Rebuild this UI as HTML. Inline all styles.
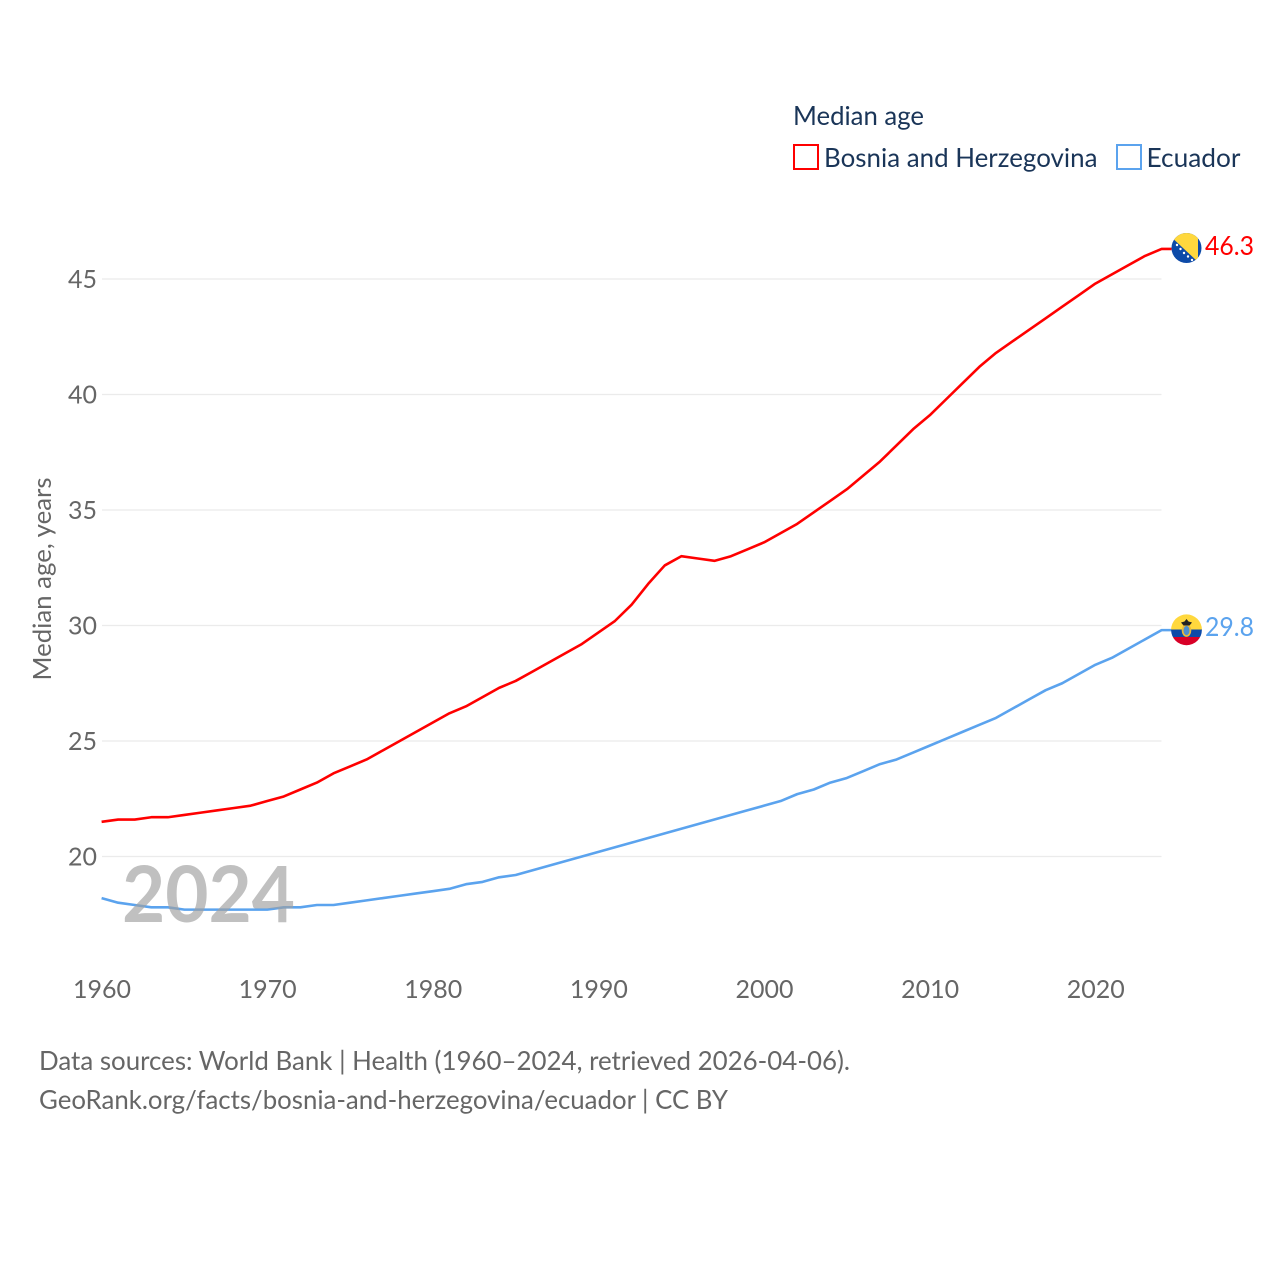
<!DOCTYPE html>
<html lang="en">
<head>
<meta charset="utf-8">
<title>Median age: Bosnia and Herzegovina vs Ecuador</title>
<style>
html,body{margin:0;padding:0;background:#fff;width:1280px;height:1280px;overflow:hidden}
svg{display:block}
text{font-family:"Lato","Carlito","Liberation Sans",sans-serif}
</style>
</head>
<body>
<svg id="chart" xmlns="http://www.w3.org/2000/svg" width="1280" height="1280" viewBox="0 0 1280 1280">
  <defs>
    <clipPath id="flag-clip-ba"><circle cx="1186.5" cy="248" r="15"/></clipPath>
    <clipPath id="flag-clip-ec"><circle cx="1186.5" cy="629.8" r="15.4"/></clipPath>
  </defs>
  <rect x="0" y="0" width="1280" height="1280" fill="#fff"/>
  <g id="grid"></g>
  <g id="yticks"></g>
  <g id="xticks"></g>
  <text transform="translate(51,579) rotate(-90)" text-anchor="middle" font-size="25.5" fill="#666" textLength="203" lengthAdjust="spacingAndGlyphs">Median age, years</text>
  <g id="series"></g>
  <text x="122" y="922" font-size="78" font-weight="700" fill="#a0a0a0" opacity="0.66" textLength="173" lengthAdjust="spacingAndGlyphs">2024</text>

  <g clip-path="url(#flag-clip-ba)">
    <rect x="1171" y="232" width="31" height="32" fill="#0d4aa8"/>
    <polygon points="1167,233 1198,233 1198,262" fill="#ffd83d"/>
    <g fill="#fff">
      <circle cx="1177" cy="245" r="1.2"/><circle cx="1180.5" cy="249" r="1.2"/><circle cx="1184" cy="253" r="1.2"/>
      <circle cx="1188" cy="256.5" r="1.2"/><circle cx="1192" cy="260" r="1.2"/>
    </g>
  </g>
  <g clip-path="url(#flag-clip-ec)">
    <rect x="1171" y="614" width="31" height="16" fill="#ffd83d"/>
    <rect x="1171" y="629.5" width="31" height="7.5" fill="#0d4aa8"/>
    <rect x="1171" y="637" width="31" height="9" fill="#d80027"/>
    <ellipse cx="1186.5" cy="630.5" rx="4.8" ry="6.4" fill="#e9b93a"/>
    <ellipse cx="1186.5" cy="630.5" rx="3" ry="4.6" fill="#4c8fd0"/>
    <polygon points="1186.5,619 1188.5,621.5 1192,622.5 1189.5,625.5 1183.5,625.5 1181,622.5 1184.5,621.5" fill="#222"/>
  </g>
  <text id="end-ba" x="1205" y="255" font-size="26" fill="#ff0000" textLength="49" lengthAdjust="spacingAndGlyphs"></text>
  <text id="end-ec" x="1205" y="636" font-size="26" fill="#5ba3ee" textLength="49" lengthAdjust="spacingAndGlyphs"></text>

  <g>
    <text x="793" y="125" font-size="26" fill="#1a3558" textLength="131" lengthAdjust="spacingAndGlyphs">Median age</text>
    <g>
      <rect x="794" y="145" width="24" height="24" fill="#fff" stroke="#ff0000" stroke-width="2"/>
      <text x="824" y="167" font-size="26" fill="#1a3558" textLength="273.5" lengthAdjust="spacingAndGlyphs">Bosnia and Herzegovina</text>
    </g>
    <g>
      <rect x="1117" y="145" width="24" height="24" fill="#fff" stroke="#5ba3ee" stroke-width="2"/>
      <text x="1146.5" y="167" font-size="26" fill="#1a3558" textLength="94" lengthAdjust="spacingAndGlyphs">Ecuador</text>
    </g>
  </g>

  <text x="39" y="1070" font-size="26" fill="#666" textLength="811" lengthAdjust="spacingAndGlyphs">Data sources: World Bank | Health (1960–2024, retrieved 2026-04-06).</text>
  <text x="39" y="1109" font-size="26" fill="#666" textLength="689" lengthAdjust="spacingAndGlyphs">GeoRank.org/facts/bosnia-and-herzegovina/ecuador | CC BY</text>
</svg>
<script>
const startYear = 1960;
const bosniaValues = [21.5,21.6,21.6,21.7,21.7,21.8,21.9,22.0,22.1,22.2,22.4,22.6,22.9,23.2,23.6,23.9,24.2,24.6,25.0,25.4,25.8,26.2,26.5,26.9,27.3,27.6,28.0,28.4,28.8,29.2,29.7,30.2,30.9,31.8,32.6,33.0,32.9,32.8,33.0,33.3,33.6,34.0,34.4,34.9,35.4,35.9,36.5,37.1,37.8,38.5,39.1,39.8,40.5,41.2,41.8,42.3,42.8,43.3,43.8,44.3,44.8,45.2,45.6,46.0,46.3];
const ecuadorValues = [18.2,18.0,17.9,17.8,17.8,17.7,17.7,17.7,17.7,17.7,17.7,17.8,17.8,17.9,17.9,18.0,18.1,18.2,18.3,18.4,18.5,18.6,18.8,18.9,19.1,19.2,19.4,19.6,19.8,20.0,20.2,20.4,20.6,20.8,21.0,21.2,21.4,21.6,21.8,22.0,22.2,22.4,22.7,22.9,23.2,23.4,23.7,24.0,24.2,24.5,24.8,25.1,25.4,25.7,26.0,26.4,26.8,27.2,27.5,27.9,28.3,28.6,29.0,29.4,29.8];
const yTickValues = [20,25,30,35,40,45];
const xTickYears = [1960,1970,1980,1990,2000,2010,2020];

const SVG_NS = 'http://www.w3.org/2000/svg';
function xScale(year){ return 101.6 + (year - 1960) * 16.5625; }
function yScale(value){ return 856.5 - (value - 20) * 23.1; }

const gridGroup = document.getElementById('grid');
const yGroup = document.getElementById('yticks');
const xGroup = document.getElementById('xticks');
const seriesGroup = document.getElementById('series');

yTickValues.forEach(function(v){
  const line = document.createElementNS(SVG_NS, 'line');
  
  
  line.setAttribute('x1', 102);
  line.setAttribute('x2', 1161.5);
  line.setAttribute('y1', yScale(v));
  line.setAttribute('y2', yScale(v));
  line.setAttribute('stroke', '#ebebeb');
  line.setAttribute('stroke-width', '1.2');
  gridGroup.appendChild(line);

  const label = document.createElementNS(SVG_NS, 'text');
  
  
  label.setAttribute('x', 97);
  label.setAttribute('y', yScale(v) + 9);
  label.setAttribute('text-anchor', 'end');
  label.setAttribute('font-size', '25');
  label.setAttribute('fill', '#666');
  label.textContent = String(v);
  yGroup.appendChild(label);
});

xTickYears.forEach(function(t){
  const label = document.createElementNS(SVG_NS, 'text');
  
  
  label.setAttribute('x', xScale(t) + 0.4);
  label.setAttribute('y', 998);
  label.setAttribute('text-anchor', 'middle');
  label.setAttribute('font-size', '25');
  label.setAttribute('fill', '#666');
  label.textContent = String(t);
  xGroup.appendChild(label);
});

function linePath(values){
  let d = '';
  values.forEach(function(v, i){
    d += (i === 0 ? 'M' : 'L') + xScale(startYear + i).toFixed(2) + ' ' + yScale(v).toFixed(2);
  });
  const last = values[values.length - 1];
  d += 'L' + (xScale(startYear + values.length - 1) + 10).toFixed(2) + ' ' + yScale(last).toFixed(2);
  return d;
}

const bosniaLine = document.createElementNS(SVG_NS, 'path');


bosniaLine.setAttribute('d', linePath(bosniaValues));
bosniaLine.setAttribute('fill', 'none');
bosniaLine.setAttribute('stroke', '#ff0000');
bosniaLine.setAttribute('stroke-width', '2.6');
bosniaLine.setAttribute('stroke-linejoin', 'round');
seriesGroup.appendChild(bosniaLine);

const ecuadorLine = document.createElementNS(SVG_NS, 'path');


ecuadorLine.setAttribute('d', linePath(ecuadorValues));
ecuadorLine.setAttribute('fill', 'none');
ecuadorLine.setAttribute('stroke', '#5ba3ee');
ecuadorLine.setAttribute('stroke-width', '2.6');
ecuadorLine.setAttribute('stroke-linejoin', 'round');
seriesGroup.appendChild(ecuadorLine);

document.getElementById('end-ba').textContent = bosniaValues[bosniaValues.length - 1].toFixed(1);
document.getElementById('end-ec').textContent = ecuadorValues[ecuadorValues.length - 1].toFixed(1);
</script>
</body>
</html>
